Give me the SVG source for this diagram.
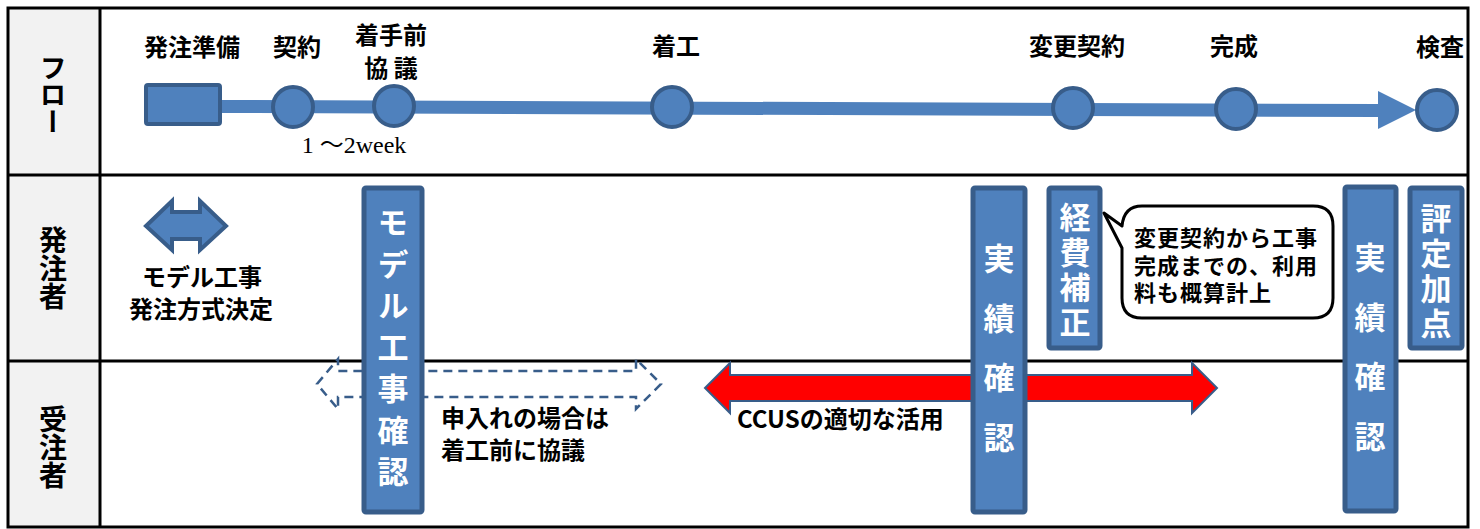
<svg xmlns="http://www.w3.org/2000/svg" width="1480" height="529" viewBox="0 0 1480 529">
<defs>
<style>
.t{font-family:"Noto Sans CJK JP","Liberation Sans",sans-serif;font-weight:bold;fill:#000}
.w{font-family:"Noto Sans CJK JP","Liberation Sans",sans-serif;font-weight:bold;fill:#fff;text-anchor:middle;writing-mode:vertical-rl}
.v{writing-mode:vertical-rl}
.bar{fill:#4f81bd;stroke:#385d8a;stroke-width:5}
.node{fill:#4f81bd;stroke:#385d8a;stroke-width:4}
.grid{fill:none;stroke:#000;stroke-width:3}
</style>
</defs>
<rect width="1480" height="529" fill="#fff"/>
<g id="table">
<rect x="8" y="8" width="92" height="519" fill="#f2f2f2"/>
<rect x="8" y="8" width="1460" height="519" class="grid"/>
<line x1="100" y1="8" x2="100" y2="527" class="grid"/>
<line x1="8" y1="175" x2="1468" y2="175" class="grid"/>
<line x1="8" y1="361" x2="1468" y2="361" class="grid"/>
<text class="t v" font-size="27" text-anchor="middle" x="53" y="95">フロー</text>
<text class="t v" font-size="28" text-anchor="middle" x="53" y="268">発注者</text>
<text class="t v" font-size="28" text-anchor="middle" x="53" y="447">受注者</text>
</g>
<g id="connectors">
<polygon points="220,100 1378,104 1378,91 1416,110 1378,129 1378,117 220,113" fill="#4f81bd"/>
</g>
<g id="node-prep">
<rect x="146" y="85" width="74" height="39" rx="2" class="node"/>
<text class="t" font-size="24" x="192" y="56" text-anchor="middle">発注準備</text>
</g>
<g id="node-contract">
<circle cx="293" cy="107" r="20" class="node"/>
<text class="t" font-size="24" x="297" y="56" text-anchor="middle">契約</text>
</g>
<g id="node-pre">
<circle cx="394" cy="106" r="20" class="node"/>
<text class="t" font-size="24" x="391" y="44" text-anchor="middle">着手前</text>
<text class="t" font-size="24" x="391" y="77" text-anchor="middle">協 議</text>
<text x="354" y="153" font-size="24" text-anchor="middle" font-family="Liberation Serif,'Noto Sans CJK JP',serif">1 ～2week</text>
</g>
<g id="node-start">
<circle cx="672" cy="107" r="20" class="node"/>
<text class="t" font-size="24" x="676" y="55" text-anchor="middle">着工</text>
</g>
<g id="node-change">
<circle cx="1073" cy="108" r="20" class="node"/>
<text class="t" font-size="24" x="1077" y="55" text-anchor="middle">変更契約</text>
</g>
<g id="node-complete">
<circle cx="1236" cy="109" r="20" class="node"/>
<text class="t" font-size="24" x="1234" y="55" text-anchor="middle">完成</text>
</g>
<g id="node-inspect">
<circle cx="1437" cy="110" r="20" class="node"/>
<text class="t" font-size="24" x="1440" y="56" text-anchor="middle">検査</text>
</g>
<g id="node-method">
<polygon points="146,226 172,201 172,212 200,212 200,201 226,226 200,250 200,239 172,239 172,250" class="node"/>
<text class="t" font-size="24" x="202" y="286" text-anchor="middle">モデル工事</text>
<text class="t" font-size="24" x="201" y="318" text-anchor="middle">発注方式決定</text>
</g>
<g id="node-dashed">
<polygon points="317,384 338,359 338,371 636,371 636,359 661,384 636,409 636,397 338,397 338,409" fill="none" stroke="#385d8a" stroke-width="2.5" stroke-dasharray="9,6"/>
<text class="t" font-size="24" x="441" y="427">申入れの場合は</text>
<text class="t" font-size="24" x="441" y="459">着工前に協議</text>
</g>
<g id="node-ccus">
<polygon points="705,388 730,363 730,375 1192,375 1192,363 1217,388 1192,413 1192,401 730,401 730,413" fill="#f00" stroke="#385d8a" stroke-width="2"/>
<text class="t" font-size="24" x="737" y="428">CCUSの適切な活用</text>
</g>
<g id="node-model-check">
<rect x="364" y="188" width="58" height="324" rx="2" class="bar"/>
<text class="w" font-size="31" letter-spacing="10.5" x="393" y="352">モデル工事確認</text>
</g>
<g id="node-result1">
<rect x="973" y="188" width="52" height="324" rx="2" class="bar"/>
<text class="w" font-size="31" letter-spacing="28.7" x="999" y="362">実績確認</text>
</g>
<g id="node-cost">
<rect x="1049" y="188" width="51" height="160" rx="2" class="bar"/>
<text class="w" font-size="31" letter-spacing="4" x="1075" y="272">経費補正</text>
</g>
<g id="node-callout">
<path d="M1142,206 H1313 Q1333,206 1333,226 V298 Q1333,318 1313,318 H1142 Q1122,318 1122,298 V248 L1104,213 L1122,226 Q1124,206 1142,206 Z" fill="#fff" stroke="#000" stroke-width="3" stroke-linejoin="round"/>
<text class="t" font-size="22" letter-spacing="1"><tspan x="1134" y="246">変更契約から工事</tspan><tspan x="1134" y="274">完成までの、利用</tspan><tspan x="1134" y="301">料も概算計上</tspan></text>
</g>
<g id="node-result2">
<rect x="1345" y="187" width="51" height="324" rx="2" class="bar"/>
<text class="w" font-size="31" letter-spacing="28.7" x="1370" y="361">実績確認</text>
</g>
<g id="node-score">
<rect x="1410" y="188" width="52" height="160" rx="2" class="bar"/>
<text class="w" font-size="31" letter-spacing="4" x="1436" y="273">評定加点</text>
</g>
</svg>
